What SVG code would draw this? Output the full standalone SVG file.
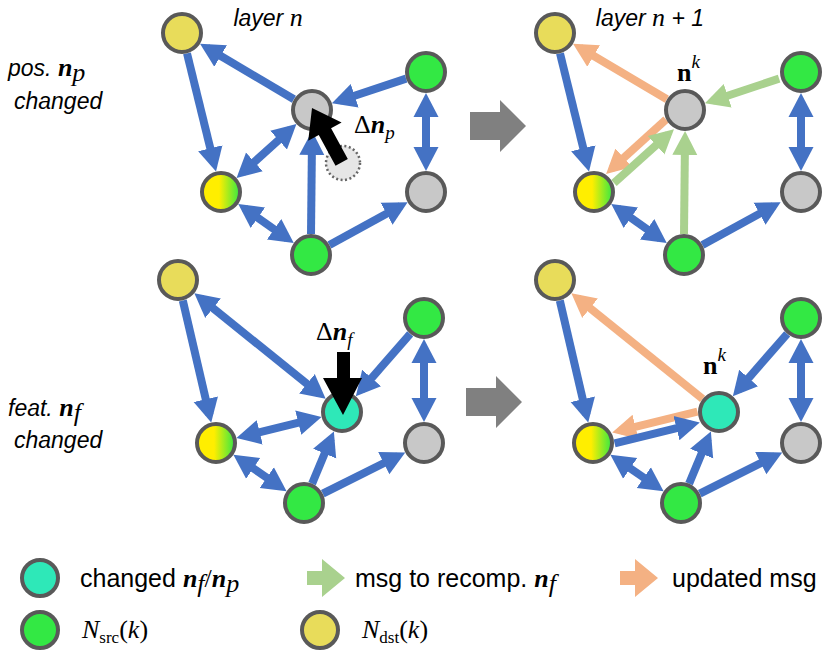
<svg xmlns="http://www.w3.org/2000/svg" width="829" height="650" viewBox="0 0 829 650">
<defs>
<linearGradient id="yg" x1="0" x2="1" y1="0" y2="0"><stop offset="0.45" stop-color="#ffee00"/><stop offset="1" stop-color="#33e844"/></linearGradient>
<marker id="hb" markerUnits="userSpaceOnUse" markerWidth="28" markerHeight="28" viewBox="0 -14 28 28" refX="16" refY="0" orient="auto-start-reverse"><path d="M0,-12.5 L24,0 L0,12.5 z" fill="#4472c4"/></marker>
<marker id="ho" markerUnits="userSpaceOnUse" markerWidth="28" markerHeight="28" viewBox="0 -14 28 28" refX="16" refY="0" orient="auto-start-reverse"><path d="M0,-12.5 L24,0 L0,12.5 z" fill="#f4b183"/></marker>
<marker id="hg" markerUnits="userSpaceOnUse" markerWidth="28" markerHeight="28" viewBox="0 -14 28 28" refX="16" refY="0" orient="auto-start-reverse"><path d="M0,-12.5 L24,0 L0,12.5 z" fill="#a9d18e"/></marker>
</defs>
<style>
.b{stroke:#4472c4;stroke-width:8;fill:none;marker-end:url(#hb)}
.bb{stroke:#4472c4;stroke-width:8;fill:none;marker-end:url(#hb);marker-start:url(#hb)}
.o{stroke:#f4b183;stroke-width:8;fill:none;marker-end:url(#ho)}
.g{stroke:#a9d18e;stroke-width:8;fill:none;marker-end:url(#hg)}
circle.n{stroke:#595959;stroke-width:4}
.gr{fill:#33e844}.ye{fill:#e8dc5a}.gy{fill:#c8c8c8}.cy{fill:#2ee8b8}.yg{fill:url(#yg)}
.t{font-family:"Liberation Sans",sans-serif;font-size:23px;fill:#000}
.lt{font-family:"Liberation Sans Narrow","Liberation Sans",sans-serif;font-size:25px;fill:#000}
.it{font-style:italic}
.m{font-family:"Liberation Serif",serif;font-size:26px}
</style>
<g id="labels">
<text class="t it" x="268" y="26" text-anchor="middle">layer <tspan class="m">n</tspan></text>
<text class="t it" x="650" y="26" text-anchor="middle">layer <tspan class="m">n</tspan> + 1</text>
<text class="t it" x="8" y="76">pos. <tspan class="m" font-weight="bold">n</tspan><tspan class="m" font-size="17" dy="5">p</tspan></text>
<text class="t it" x="14" y="109">changed</text>
<text class="t it" x="8" y="416">feat. <tspan class="m" font-weight="bold">n</tspan><tspan class="m" font-size="17" dy="5">f</tspan></text>
<text class="t it" x="14" y="448">changed</text>
</g>
<g id="connectors">
<g id="c-tl">
<line class="b" x1="293.9" y1="99.3" x2="206.9" y2="47.8"/>
<line class="b" x1="406.1" y1="78.6" x2="339.5" y2="100.8"/>
<line class="b" x1="187" y1="53.4" x2="214.1" y2="163.8"/>
<line class="bb" x1="290.5" y1="129.4" x2="242.5" y2="172.6"/>
<line class="b" x1="311" y1="234" x2="312" y2="139"/>
<line class="bb" x1="244.8" y1="208.6" x2="287.2" y2="238.4"/>
<line class="b" x1="329.4" y1="244.9" x2="400.6" y2="206"/>
<line class="bb" x1="426" y1="101" x2="426" y2="163"/>
</g>
<g id="c-tr" transform="translate(373,0)">
<line class="o" x1="293.9" y1="99.3" x2="206.9" y2="47.8"/>
<line class="g" x1="406.1" y1="78.6" x2="339.5" y2="100.8"/>
<line class="b" x1="187" y1="53.4" x2="214.1" y2="163.8"/>
<line class="o" x1="293" y1="119.5" x2="239" y2="168.5"/>
<line class="g" x1="241" y1="183" x2="295" y2="134.5"/>
<line class="g" x1="311" y1="234" x2="312" y2="139"/>
<line class="bb" x1="244.8" y1="208.6" x2="287.2" y2="238.4"/>
<line class="b" x1="329.4" y1="244.9" x2="400.6" y2="206"/>
<line class="bb" x1="428" y1="101" x2="428" y2="163"/>
</g>
<g id="c-bl">
<line class="bb" x1="200.6" y1="298.2" x2="319.4" y2="393.8"/>
<line class="b" x1="182.8" y1="300.5" x2="209.4" y2="414.8"/>
<line class="b" x1="410.2" y1="333.8" x2="361.1" y2="390.1"/>
<line class="bb" x1="424" y1="347" x2="424" y2="414"/>
<line class="bb" x1="244.2" y1="436.1" x2="313.8" y2="418.9"/>
<line class="b" x1="312.1" y1="483.6" x2="330.8" y2="438.8"/>
<line class="bb" x1="240" y1="459.3" x2="280" y2="486.7"/>
<line class="b" x1="322.8" y1="493.6" x2="398.1" y2="456"/>
</g>
<g id="c-br" transform="translate(377,0)">
<line class="o" x1="325.6" y1="398.8" x2="200.6" y2="298.2"/>
<line class="b" x1="182.8" y1="300.5" x2="209.4" y2="414.8"/>
<line class="b" x1="410.2" y1="333.8" x2="361.1" y2="390.1"/>
<line class="bb" x1="424" y1="347" x2="424" y2="414"/>
<line class="o" x1="320.4" y1="411.6" x2="243" y2="430.7"/>
<line class="b" x1="237.6" y1="443.4" x2="315" y2="424.3"/>
<line class="b" x1="312.1" y1="483.6" x2="330.8" y2="438.8"/>
<line class="bb" x1="240" y1="459.3" x2="280" y2="486.7"/>
<line class="b" x1="322.8" y1="493.6" x2="398.1" y2="456"/>
</g>
</g>
<g id="dashed-old"><circle cx="343" cy="163" r="17" fill="#e6e6e6" stroke="#666" stroke-width="2.5" stroke-dasharray="2 2.5"/></g>
<g id="nodes-tl">
<circle id="tl-a" class="n ye" cx="182" cy="33" r="19"/>
<circle id="tl-c" class="n gy" cx="312" cy="110" r="19"/>
<circle id="tl-tr" class="n gr" cx="426" cy="72" r="19"/>
<circle id="tl-y" class="n yg" cx="221" cy="192" r="19"/>
<circle id="tl-br" class="n gy" cx="426" cy="192" r="19"/>
<circle id="tl-g" class="n gr" cx="311" cy="255" r="19"/>
</g>
<g id="nodes-tr" transform="translate(373,0)">
<circle id="tr-a" class="n ye" cx="182" cy="33" r="19"/>
<circle id="tr-c" class="n gy" cx="312" cy="110" r="19"/>
<circle id="tr-tr" class="n gr" cx="428" cy="72" r="19"/>
<circle id="tr-y" class="n yg" cx="221" cy="192" r="19"/>
<circle id="tr-br" class="n gy" cx="428" cy="192" r="19"/>
<circle id="tr-g" class="n gr" cx="311" cy="255" r="19"/>
</g>
<g id="nodes-bl">
<circle id="bl-a" class="n ye" cx="178" cy="280" r="19"/>
<circle id="bl-c" class="n cy" cx="342" cy="412" r="19"/>
<circle id="bl-tr" class="n gr" cx="424" cy="318" r="19"/>
<circle id="bl-y" class="n yg" cx="216" cy="443" r="19"/>
<circle id="bl-br" class="n gy" cx="424" cy="443" r="19"/>
<circle id="bl-g" class="n gr" cx="304" cy="503" r="19"/>
</g>
<g id="nodes-br" transform="translate(377,0)">
<circle id="br-a" class="n ye" cx="178" cy="280" r="19"/>
<circle id="br-c" class="n cy" cx="342" cy="412" r="19"/>
<circle id="br-tr" class="n gr" cx="424" cy="318" r="19"/>
<circle id="br-y" class="n yg" cx="216" cy="443" r="19"/>
<circle id="br-br" class="n gy" cx="424" cy="443" r="19"/>
<circle id="br-g" class="n gr" cx="304" cy="503" r="19"/>
</g>
<g id="delta-p">
<polygon transform="translate(312,108) rotate(61.4)" points="0,0 27,-19 27,-7 62,-7 62,7 27,7 27,19" fill="#000"/>
<text class="m" x="354" y="133" font-size="29">Δ<tspan font-weight="bold" font-style="italic">n</tspan><tspan font-style="italic" font-size="19" dy="6">p</tspan></text>
</g>
<g id="delta-f">
<polygon points="337,352 350,352 350,378 362,378 343,415 323,378 337,378" fill="#000"/>
<text class="m" x="316" y="340" font-size="29">Δ<tspan font-weight="bold" font-style="italic">n</tspan><tspan font-style="italic" font-size="19" dy="6">f</tspan></text>
</g>
<g id="nk">
<text class="m" x="677" y="81" font-size="29" font-weight="bold">n<tspan font-weight="normal" font-style="italic" font-size="19" dy="-13">k</tspan></text>
<text class="m" x="703" y="374" font-size="29" font-weight="bold">n<tspan font-weight="normal" font-style="italic" font-size="19" dy="-13">k</tspan></text>
</g>
<g id="big-arrows" fill="#808080">
<polygon points="470,112 500,112 500,100 526,126 500,152 500,140 470,140"/>
<polygon points="466,388 496,388 496,376 522,402 496,428 496,416 466,416"/>
</g>
<g id="legend">
<circle class="n cy" cx="40" cy="578" r="18"/>
<text class="lt" x="80" y="587">changed <tspan class="m" font-weight="bold" font-style="italic">n</tspan><tspan class="m" font-style="italic" font-size="17" dy="5">f</tspan><tspan class="m" dy="-5">/</tspan><tspan class="m" font-weight="bold" font-style="italic">n</tspan><tspan class="m" font-style="italic" font-size="17" dy="5">p</tspan></text>
<polygon points="307,571 322,571 322,559 345,578 322,597 322,585 307,585" fill="#a9d18e"/>
<text class="lt" x="355" y="587">msg to recomp. <tspan class="m" font-weight="bold" font-style="italic">n</tspan><tspan class="m" font-style="italic" font-size="17" dy="5">f</tspan></text>
<polygon points="620,571 635,571 635,559 658,578 635,597 635,585 620,585" fill="#f4b183"/>
<text class="lt" x="672" y="587">updated msg</text>
<circle class="n gr" cx="40" cy="630" r="18"/>
<text class="m" x="82" y="638" font-style="italic">N<tspan font-style="normal" font-size="17" dy="5">src</tspan><tspan dy="-5" font-style="normal">(</tspan>k<tspan font-style="normal">)</tspan></text>
<circle class="n ye" cx="320" cy="630" r="18"/>
<text class="m" x="362" y="638" font-style="italic">N<tspan font-style="normal" font-size="17" dy="5">dst</tspan><tspan dy="-5" font-style="normal">(</tspan>k<tspan font-style="normal">)</tspan></text>
</g>
</svg>
